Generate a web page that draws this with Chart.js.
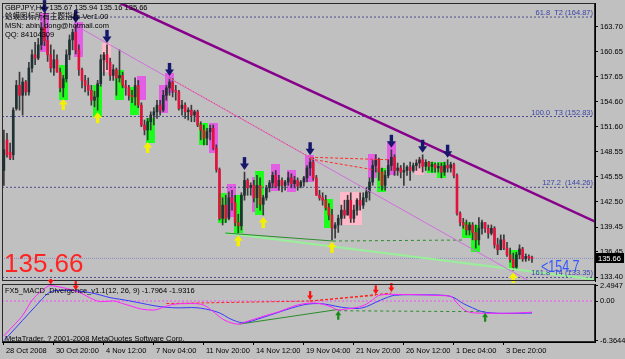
<!DOCTYPE html>
<html>
<head>
<meta charset="utf-8">
<script src="https://cdn.jsdelivr.net/npm/chart.js@4.4.1/dist/chart.umd.min.js"></script>
<style>
html,body{margin:0;padding:0;background:#c0c0c0;}
#wrap{position:relative;width:625px;height:359px;overflow:hidden;background:#c0c0c0;font-family:"Liberation Sans","Noto Sans CJK SC",Arial,sans-serif;}
canvas{position:absolute;left:0;}
#c1{top:0;}
#c2{top:279px;}
.t{position:absolute;white-space:nowrap;color:#000;font-size:7.5px;line-height:9px;}
</style>
</head>
<body>
<div id="wrap">
<canvas id="c1" width="625" height="283"></canvas>
<canvas id="c2" width="625" height="80"></canvas>
<div class="t" style="left:5px;top:3px">GBPJPY,H4&nbsp; 135.67 135.94 135.16 135.66</div>
<div class="t" style="left:5px;top:12px">蛤蟆图标所有主题指标-Ver1.00</div>
<div class="t" style="left:5px;top:21px">MSN: abin_dong@hotmail.com</div>
<div class="t" style="left:5px;top:30px">QQ: 84104309</div>
<div class="t" style="left:4px;top:250px;font-size:26px;line-height:26px;color:#ff2424">135.66</div>
<div class="t" style="left:541px;top:259px;font-size:16px;line-height:16px;color:#3355ff;transform:scaleX(0.78);transform-origin:0 0">&lt;154.7</div>
<div class="t" style="left:5px;top:286px">FX5_MACD_Divergence_v1.1(12, 26, 9) -1.7964 -1.9316</div>
<div class="t" style="left:5px;top:334px">MetaTrader, ? 2001-2008 MetaQuotes Software Corp.</div>
</div>
<script>
// ---------------- DATA ----------------
const xTickBars = [0,16,32,48,64,80,96,112,128,144,160];
const xTickLabels = ['28 Oct 2008','30 Oct 20:00','4 Nov 12:00','7 Nov 04:00','11 Nov 20:00','14 Nov 12:00','19 Nov 04:00','21 Nov 20:00','26 Nov 12:00','1 Dec 04:00','3 Dec 20:00'];
const priceTicks = [163.70,160.65,157.65,154.60,151.60,148.55,145.55,142.50,139.45,136.45,133.40];
const macdTicks = [2.4947, 0, -6.3644];
const macdTickLabels = ['2.4947','0.00','-6.3644'];

const opens = [
146.3,150.0,148.5,148.2,153.8,156.6,155.4,157.0,155.8,158.7,
160.3,159.9,161.5,163.6,162.0,160.3,158.7,159.7,158.2,156.3,
157.4,160.3,162.1,163.0,160.9,158.5,157.2,156.6,156.0,154.8,
155.2,156.8,159.7,160.3,159.4,157.8,158.5,157.5,157.8,156.6,
156.3,155.4,155.2,156.6,154.2,151.8,151.2,152.2,153.0,153.4,
154.2,153.6,155.4,156.3,157.0,156.0,155.8,153.8,154.2,153.4,
153.6,153.0,153.4,151.8,151.2,150.2,151.0,151.4,149.0,146.4,
140.5,142.1,140.5,143.0,142.4,140.0,139.6,143.3,145.1,144.2,
144.5,143.0,144.5,142.2,143.0,144.2,144.8,145.7,144.4,145.1,
144.5,144.9,145.4,144.7,145.1,144.4,144.9,145.4,146.6,147.3,
145.4,143.3,143.0,142.7,141.8,140.9,139.3,139.7,140.5,141.5,
140.9,142.7,140.5,141.5,142.7,142.1,143.0,143.7,144.9,146.9,
147.6,146.1,144.5,145.7,146.9,147.9,146.3,146.6,146.1,146.3,
146.7,146.3,146.9,147.2,147.6,146.8,147.3,146.8,147.0,146.6,
146.8,146.1,146.9,146.6,147.0,145.7,141.1,140.0,139.7,139.1,
139.7,138.8,137.9,139.3,140.0,139.3,138.7,139.3,137.3,136.7,
137.9,136.9,136.1,135.5,134.6,136.1,136.8,135.6,135.9,135.67];
const highs = [
151.2,150.8,149.6,153.9,157.2,158.2,157.5,157.2,159.4,160.9,
161.8,162.3,164.2,165.1,162.6,161.5,160.9,160.3,158.7,157.8,
160.9,162.7,163.4,163.9,161.5,158.7,157.8,157.5,156.6,155.9,
157.2,160.3,160.6,161.5,159.9,159.1,158.7,160.9,158.2,157.2,
156.6,156.0,157.5,157.2,154.5,152.4,152.6,153.4,153.9,154.8,
154.8,156.0,156.6,157.5,157.4,156.6,156.0,154.8,154.5,153.9,
154.2,153.6,153.6,152.2,151.8,151.4,151.8,151.8,149.4,146.6,
143.0,143.3,143.7,143.9,143.3,141.0,143.6,146.1,145.3,144.8,
145.1,145.7,145.4,143.3,144.5,145.1,146.1,146.3,145.7,145.4,
145.1,146.1,145.9,145.6,145.4,145.1,145.6,146.9,147.9,147.8,
145.7,143.9,143.6,143.3,142.3,141.6,140.0,140.9,142.1,142.7,
143.3,143.6,142.1,142.9,143.6,143.6,144.2,145.4,147.5,148.2,
147.8,146.6,146.3,147.6,148.8,148.2,147.2,146.9,147.2,146.9,
147.3,147.2,147.6,147.9,148.2,147.6,147.4,147.3,147.2,147.2,
147.2,147.3,147.6,147.3,147.2,145.9,141.3,140.5,140.3,140.0,
140.0,139.7,140.6,140.3,140.0,139.7,139.7,139.5,138.1,138.5,
138.5,137.6,136.9,136.3,136.4,137.3,137.0,136.2,136.1,135.94];
const lows = [
144.5,147.9,147.6,147.6,153.6,153.6,153.0,155.4,155.4,158.2,
159.1,159.7,160.9,161.4,159.5,158.2,157.8,158.2,155.8,155.2,
157.0,159.7,160.9,160.4,157.8,156.3,155.8,155.4,154.2,154.0,
153.6,156.5,157.8,158.5,157.2,157.2,155.4,157.0,156.3,155.4,
154.8,154.5,154.2,153.9,151.6,150.6,150.0,151.2,151.8,152.6,
153.0,153.4,154.8,155.4,155.2,154.8,153.6,153.0,152.6,152.4,
152.2,152.2,151.6,150.0,149.4,149.4,150.0,148.8,146.1,140.3,
139.7,140.0,140.3,141.5,139.6,138.7,139.1,142.7,143.3,143.3,
142.5,141.8,141.5,140.9,142.7,143.7,144.2,144.2,143.9,143.7,
143.9,144.5,144.2,144.2,143.9,144.2,144.4,144.9,145.7,145.1,
143.3,142.7,142.1,141.5,140.3,137.9,138.1,138.8,139.7,140.5,
140.9,140.0,140.0,140.9,141.5,141.7,142.5,142.7,144.5,146.1,
145.1,143.9,143.9,145.4,146.3,145.7,145.7,145.4,144.5,145.7,
145.1,146.1,146.3,146.6,146.1,146.3,146.3,146.1,146.1,146.1,
145.4,145.7,146.1,146.1,145.4,140.9,139.6,139.3,138.5,138.5,
137.9,136.9,137.3,138.6,138.8,138.1,138.5,136.9,136.1,136.7,
136.7,135.9,135.2,134.2,134.4,135.6,135.3,135.3,135.4,135.16];
const closes = [
148.8,148.2,147.8,153.6,156.6,155.4,157.0,155.8,158.7,160.3,
159.9,161.5,163.6,162.0,160.3,158.7,159.7,158.2,156.3,157.4,
160.3,162.1,163.0,160.9,158.5,157.2,156.6,156.0,154.8,155.2,
156.8,159.7,160.3,159.4,157.8,158.5,157.5,157.8,156.6,156.3,
155.4,155.2,156.6,154.2,151.8,151.2,152.2,153.0,153.4,154.2,
153.6,155.4,156.3,157.0,156.0,155.8,153.8,154.2,153.4,153.6,
153.0,153.4,151.8,151.2,150.2,151.0,151.4,149.0,146.4,140.5,
142.1,140.5,143.0,142.4,140.0,139.6,143.3,145.1,144.2,144.5,
143.0,144.5,142.2,143.0,144.2,144.8,145.7,144.4,145.1,144.5,
144.9,145.4,144.7,145.1,144.4,144.9,145.4,146.6,147.3,145.4,
143.3,143.0,142.7,141.8,140.9,139.3,139.7,140.5,141.5,140.9,
142.7,140.5,141.5,142.7,142.1,143.0,143.7,144.9,146.9,147.6,
146.1,144.5,145.7,146.9,147.9,146.3,146.6,146.1,146.3,146.7,
146.3,146.9,147.2,147.6,146.8,147.3,146.8,147.0,146.6,146.8,
146.1,146.9,146.6,147.0,145.7,141.1,140.0,139.7,139.1,139.7,
138.8,137.9,139.3,140.0,139.3,138.7,139.3,137.3,136.7,137.9,
136.9,136.1,135.5,134.6,136.1,136.8,135.6,135.9,135.7,135.66];

const downArrowBars = [13,23,33,53,77,98,124,134,142];
const upArrowBars = [19,30,46,75,83,105,163];

const boxStart  = [12,18,23,29,32,36,41,43,46,50,52,63,66,69,72,74,80,81,86,91,97,103,108,117,120,123,132,136,139,147,150,162];
const boxEnd    = [14,20,25,31,34,38,43,45,48,52,54,65,68,71,74,76,82,83,88,93,99,105,114,119,122,125,134,138,141,149,152,164];
const boxTop    = [165.36,159.06,164.27,156.64,161.73,158.46,156.40,157.73,152.65,156.64,158.10,152.04,152.04,143.57,144.66,143.33,145.51,146.23,147.08,146.36,148.17,142.84,143.69,148.29,146.60,149.74,147.69,147.32,147.32,140.06,139.70,136.67];
const boxBottom = [160.64,154.83,160.03,152.77,158.22,154.83,153.01,154.83,149.62,153.25,155.68,149.38,148.41,139.94,140.66,138.73,141.27,140.91,143.81,143.69,144.90,139.33,139.70,145.39,143.69,145.75,145.75,145.99,145.39,138.12,136.43,134.25];
const boxKind   = ['M','G','M','G','P','G','G','M','G','M','M','G','M','G','M','G','M','G','M','M','M','G','P','M','G','M','P','G','G','G','G','G'];

const fibLevels = [164.87, 152.83, 144.26, 133.35];
const fibLabels = ['61.8  T2 (164.87)','100.0  T3 (152.83)','127.2  (144.26)','161.8  T4 (133.35)'];

const purpleX = [37.2, 189.2],  purpleY = [166.57, 140.10];
const violetX = [24.4, 172.0],  violetY = [163.54, 132.07];
const redDotX = [53, 98],       redDotY = [157.5, 147.9];
const redDashAX = [98, 123],    redDashAY = [147.9, 147.6];
const redDashBX = [98, 118],    redDashBY = [147.7, 146.4];
const lightGreenX = [70.8, 189.2], lightGreenY = [138.73, 133.09];
const darkGreenX = [70.8, 105.3],  darkGreenY = [138.73, 137.76];
const greenDashX = [105.3, 146.9], greenDashY = [137.76, 137.88];

const magX = [0,3,6,9,12,15,17,19,22,25,28,31,35,38,41,44,48,51,54,57,60,64,67,70,73,75,78,81,84,88,91,94,97,99,102,105,107,110,113,116,118,120,124,130,136,140,143,145,147,149,151,154,160,165,169];
const magV = [-5.6,-4.0,-2.3,0.1,1.6,2.49,2.35,2.15,1.75,1.2,0.4,-0.1,0.02,-0.4,-0.85,-1.3,-1.45,-1.0,-0.55,-0.42,-0.4,-0.66,-1.7,-2.9,-3.55,-3.72,-3.25,-2.78,-2.3,-1.72,-1.15,-0.62,-0.38,-0.3,-0.5,-1.0,-1.45,-1.25,-1.03,-0.5,0.2,0.9,1.08,1.05,0.97,0.88,0.76,-0.3,-1.3,-1.8,-1.92,-1.98,-1.98,-1.9,-1.7964];
const blueX = [0,2,4,6,8,10,12,14,16,19,22,25,28,31,34,37,40,44,48,52,56,60,63,66,69,72,74,76,78,81,85,90,94,97,101,104,108,113,116,119,122,125,130,136,141,144,147,150,153,156,159,164,169];
const blueV = [-6.36,-5.3,-4.2,-3.1,-2.0,-0.9,0.2,1.2,1.65,1.72,1.7,1.55,1.32,0.95,0.55,0.3,0.05,-0.35,-0.75,-1.0,-1.1,-1.05,-1.15,-1.45,-1.9,-2.75,-3.2,-3.45,-3.4,-2.95,-2.3,-1.45,-0.85,-0.5,-0.4,-0.6,-1.0,-1.2,-0.9,-0.2,0.45,0.92,1.02,1.0,0.92,0.55,-0.4,-1.1,-1.72,-1.9,-1.98,-1.98,-1.9316];
const macdRedX1 = [52, 98, 98],  macdRedY1 = [-0.4, 0.0, 0.0];
const macdRedX2 = [98, 119, 124], macdRedY2 = [0.0, 0.92, 1.29];
const macdGreenX = [75.3, 107],  macdGreenY = [-3.72, -1.35];
const macdGreenDashX = [107, 154], macdGreenDashY = [-1.56, -1.72];
const macdDownBars = [15, 23, 98, 119, 124], macdDownVals = [2.49, 1.6, 0.0, 0.92, 1.29];
const macdUpBars = [107, 154], macdUpVals = [-1.4, -1.72];

// ---------------- STYLE / LAYOUT ----------------
const X_MIN = -0.6, X_MAX = 189.16;
const FONT = '"Liberation Sans", Arial, sans-serif';
const boxColors = {G: '#1cff1c', M: '#e25ee2', P: '#ffb9c9'};
const pts = (xs, ys) => xs.map((x, i) => ({x: x, y: ys[i]}));
function lineDs(data, color, width, dash, order) {
  return {type: 'line', data: data, borderColor: color, borderWidth: width, borderDash: dash || [],
          pointRadius: 0, tension: 0, fill: false, order: order};
}
function arrowDown(ctx, x, tip, w, h, color) {
  ctx.fillStyle = color;
  const sw = Math.max(2, w * 0.38), hh = h * 0.5;
  ctx.fillRect(x - sw / 2, tip - h, sw, h - hh + 0.5);
  ctx.beginPath(); ctx.moveTo(x - w / 2, tip - hh); ctx.lineTo(x + w / 2, tip - hh); ctx.lineTo(x, tip); ctx.closePath(); ctx.fill();
}
function arrowUp(ctx, x, tip, w, h, color) {
  ctx.fillStyle = color;
  const sw = Math.max(2, w * 0.38), hh = h * 0.5;
  ctx.fillRect(x - sw / 2, tip + hh - 0.5, sw, h - hh + 0.5);
  ctx.beginPath(); ctx.moveTo(x - w / 2, tip + hh); ctx.lineTo(x + w / 2, tip + hh); ctx.lineTo(x, tip); ctx.closePath(); ctx.fill();
}
function frame(chart) {
  const {ctx, chartArea: a} = chart;
  ctx.save(); ctx.strokeStyle = '#2a2a2a'; ctx.lineWidth = 1;
  ctx.strokeRect(a.left + 0.5, a.top + 0.5, a.right - a.left - 1, a.bottom - a.top - 1);
  ctx.restore();
}
const bars = closes.map((_, i) => i);

// ---------------- MAIN CHART ----------------
const mainPlugin = {
  id: 'mainDecor',
  beforeDatasetsDraw(chart) {
    const {ctx, chartArea: a, scales: {x, y}} = chart;
    ctx.save(); ctx.beginPath(); ctx.rect(a.left, a.top, a.right - a.left, a.bottom - a.top); ctx.clip();
    for (let i = 0; i < boxStart.length; i++) {
      const x1 = x.getPixelForValue(boxStart[i] - 0.5), x2 = x.getPixelForValue(boxEnd[i] + 0.5);
      const y1 = y.getPixelForValue(boxTop[i]), y2 = y.getPixelForValue(boxBottom[i]);
      ctx.fillStyle = boxColors[boxKind[i]];
      ctx.fillRect(Math.round(x1), Math.round(y1), Math.round(x2 - x1), Math.round(y2 - y1));
    }
    ctx.restore();
  },
  afterDatasetsDraw(chart) {
    const {ctx, scales: {x, y}} = chart;
    ctx.save();
    downArrowBars.forEach(b => arrowDown(ctx, x.getPixelForValue(b), y.getPixelForValue(highs[b]) - 2, 9, 13, '#16166a'));
    upArrowBars.forEach(b => arrowUp(ctx, x.getPixelForValue(b), y.getPixelForValue(lows[b]) + 2, 9, 11, '#f4f000'));
    ctx.restore();
  },
  afterDraw(chart) {
    const {ctx, chartArea: a, scales: {y}} = chart;
    frame(chart);
    ctx.save();
    ctx.font = '7.5px ' + FONT; ctx.fillStyle = '#3a46a8'; ctx.textAlign = 'right'; ctx.textBaseline = 'alphabetic';
    fibLevels.forEach((l, i) => ctx.fillText(fibLabels[i], a.right - 2, y.getPixelForValue(l) - 2));
    const last = closes[closes.length - 1];
    const py = Math.round(y.getPixelForValue(last));
    ctx.fillStyle = '#000'; ctx.fillRect(a.right + 1, py - 5, 28, 10);
    ctx.fillStyle = '#fff'; ctx.textAlign = 'left'; ctx.textBaseline = 'middle';
    ctx.fillText(last.toFixed(2), a.right + 3, py + 0.5);
    ctx.restore();
  }
};

const mainDatasets = [];
fibLevels.forEach(l => mainDatasets.push(lineDs([{x: X_MIN, y: l}, {x: X_MAX, y: l}], '#4e4e8e', 1, [2, 2], 60)));
mainDatasets.push(lineDs([{x: X_MIN, y: closes[closes.length - 1]}, {x: X_MAX, y: closes[closes.length - 1]}], '#8c8cc4', 1, [1, 1], 59));
mainDatasets.push({type: 'bar', data: bars.map(i => ({x: i, y: [lows[i], highs[i]]})), backgroundColor: '#3a3a3a',
  barThickness: 1, grouped: false, order: 40});
mainDatasets.push({type: 'bar', data: bars.map(i => ({x: i, y: [opens[i], closes[i]]})),
  backgroundColor: bars.map(i => closes[i] >= opens[i] ? '#1d3333' : '#e3123c'),
  barThickness: 2, minBarLength: 1, grouped: false, order: 39});
mainDatasets.push(lineDs(pts(lightGreenX, lightGreenY), '#98f098', 2, [], 12));
mainDatasets.push(lineDs(pts(darkGreenX, darkGreenY), '#2a8c2a', 1, [], 11));
mainDatasets.push(lineDs(pts(greenDashX, greenDashY), '#2a8c2a', 1, [3, 3], 11));
mainDatasets.push(lineDs(pts(violetX, violetY), '#cf6fdc', 1, [], 10));
mainDatasets.push(lineDs(pts(redDotX, redDotY), '#ff3a3a', 1, [1, 2], 9));
mainDatasets.push(lineDs(pts(redDashAX, redDashAY), '#ff2a2a', 1, [3, 2], 9));
mainDatasets.push(lineDs(pts(redDashBX, redDashBY), '#ff2a2a', 1, [3, 2], 9));
mainDatasets.push(lineDs(pts(purpleX, purpleY), '#86008a', 2.5, [], 8));

const tickFont = {family: FONT, size: 7.5};
new Chart(document.getElementById('c1'), {
  type: 'bar',
  data: {datasets: mainDatasets},
  options: {
    responsive: false, animation: false, events: [],
    layout: {padding: {left: 2, top: 3, right: 0, bottom: 2}},
    plugins: {legend: {display: false}, tooltip: {enabled: false}},
    scales: {
      x: {type: 'linear', min: X_MIN, max: X_MAX, offset: false, bounds: 'data', display: false},
      y: {type: 'linear', position: 'right', min: 132.92, max: 166.57, bounds: 'data',
          afterBuildTicks: s => { s.ticks = priceTicks.map(v => ({value: v})); },
          afterFit: s => { s.width = 30; s.paddingTop = 0; s.paddingBottom = 0; },
          ticks: {callback: (v, i) => priceTicks[i].toFixed(2), color: '#000', font: tickFont, padding: 2, autoSkip: false},
          grid: {drawOnChartArea: false, drawTicks: true, tickLength: 3, color: '#000'},
          border: {display: true, color: '#000'}}
    }
  },
  plugins: [mainPlugin]
});

// ---------------- MACD CHART ----------------
const macdPlugin = {
  id: 'macdDecor',
  afterDatasetsDraw(chart) {
    const {ctx, scales: {x, y}} = chart;
    ctx.save();
    macdDownBars.forEach((b, i) => arrowDown(ctx, x.getPixelForValue(b), y.getPixelForValue(macdDownVals[i]) - 1, 6, 9, '#ff1010'));
    macdUpBars.forEach((b, i) => arrowUp(ctx, x.getPixelForValue(b), y.getPixelForValue(macdUpVals[i]) + 1, 6, 9, '#1a8a1a'));
    ctx.restore();
  },
  afterDraw(chart) { frame(chart); }
};
const macdDatasets = [
  lineDs([{x: X_MIN, y: 0}, {x: X_MAX, y: 0}], '#f050f0', 1, [2, 2], 30),
  lineDs(pts(macdGreenX, macdGreenY), '#2a8c2a', 1, [], 20),
  lineDs(pts(macdGreenDashX, macdGreenDashY), '#2a8c2a', 1, [3, 3], 20),
];
macdRedX1.forEach((x1, i) => macdDatasets.push(lineDs([{x: x1, y: macdRedY1[i]}, {x: macdRedX2[i], y: macdRedY2[i]}], '#ff2020', 1, [3, 2], 19)));
macdDatasets.push(Object.assign(lineDs(pts(blueX, blueV), '#3838ff', 1, [], 11), {cubicInterpolationMode: 'monotone'}));
macdDatasets.push(Object.assign(lineDs(pts(magX, magV), '#ff22ff', 1, [], 10), {cubicInterpolationMode: 'monotone'}));

new Chart(document.getElementById('c2'), {
  type: 'line',
  data: {datasets: macdDatasets},
  options: {
    responsive: false, animation: false, events: [],
    layout: {padding: {left: 2, top: 5, right: 0, bottom: 0}},
    plugins: {legend: {display: false}, tooltip: {enabled: false}},
    scales: {
      x: {type: 'linear', min: X_MIN, max: X_MAX, offset: false, bounds: 'data', position: 'bottom',
          afterBuildTicks: s => { s.ticks = xTickBars.map(v => ({value: v})); },
          afterFit: s => { s.height = 17; s.paddingLeft = 0; s.paddingRight = 0; },
          ticks: {callback: (v, i) => xTickLabels[i], autoSkip: false, maxRotation: 0, minRotation: 0,
                  align: 'start', labelOffset: 2, padding: 1, color: '#000', font: tickFont},
          grid: {drawOnChartArea: false, drawTicks: true, tickLength: 3, color: '#000'},
          border: {display: true, color: '#000'}},
      y: {type: 'linear', position: 'right', min: -6.6, max: 2.75, bounds: 'data',
          afterBuildTicks: s => { s.ticks = macdTicks.map(v => ({value: v})); },
          afterFit: s => { s.width = 30; s.paddingTop = 0; s.paddingBottom = 0; },
          ticks: {callback: (v, i) => macdTickLabels[i], color: '#000', font: tickFont, padding: 2, autoSkip: false},
          grid: {drawOnChartArea: false, drawTicks: true, tickLength: 3, color: '#000'},
          border: {display: true, color: '#000'}}
    }
  },
  plugins: [macdPlugin]
});
</script>
</body>
</html>
